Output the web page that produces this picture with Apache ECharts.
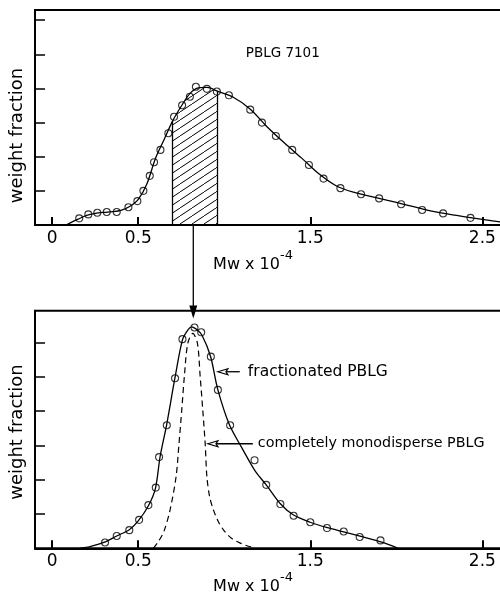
<!DOCTYPE html>
<html><head><meta charset="utf-8">
<script src="https://cdn.jsdelivr.net/npm/echarts@6/dist/echarts.min.js"></script>
<style>html,body{margin:0;padding:0;background:#fff}#c{width:500px;height:595px}</style>
</head><body><div id="c"></div>
<script>
// ---- data ----
const xTicks = [0, 0.5, 1.5, 2.5];
const yTicks = [1, 2, 3, 4, 5, 6];

const topCurveX = [0.08,0.15,0.2,0.25,0.3,0.35,0.4,0.45,0.5,0.55,0.6,0.65,0.7,0.75,0.8,0.85,0.9,0.96,1.05,1.15,1.25,1.35,1.45,1.55,1.65,1.75,1.85,1.95,2.05,2.15,2.25,2.35,2.45,2.55,2.62];
const topCurveY = [0,0.17,0.28,0.34,0.37,0.39,0.43,0.54,0.75,1.2,1.95,2.5,3.05,3.48,3.85,4.02,4.03,3.92,3.75,3.4,2.87,2.4,1.96,1.5,1.15,0.96,0.84,0.72,0.6,0.47,0.36,0.28,0.2,0.13,0.08];
const topPointsX = [0.157,0.21,0.262,0.317,0.375,0.443,0.495,0.53,0.567,0.592,0.629,0.675,0.708,0.755,0.80,0.835,0.899,0.957,1.027,1.151,1.219,1.30,1.395,1.492,1.577,1.675,1.795,1.90,2.028,2.15,2.272,2.431];
const topPointsY = [0.195,0.31,0.36,0.38,0.38,0.52,0.70,1.0,1.44,1.84,2.20,2.69,3.17,3.51,3.76,4.05,3.99,3.91,3.80,3.38,3.00,2.61,2.20,1.76,1.36,1.08,0.90,0.78,0.61,0.44,0.34,0.21];
const hatchRange = [0.70, 0.96];

const botCurveX = [0.16,0.22,0.3,0.375,0.45,0.5,0.56,0.6,0.627,0.665,0.713,0.757,0.79,0.811,0.84,0.87,0.92,0.963,1.03,1.1,1.18,1.244,1.326,1.403,1.5,1.6,1.7,1.8,1.9,1.96,2.01];
const botCurveY = [0,0.05,0.17,0.36,0.55,0.8,1.25,1.75,2.67,3.6,4.96,6.08,6.38,6.46,6.38,6.22,5.6,4.62,3.6,2.95,2.25,1.85,1.3,0.97,0.76,0.6,0.47,0.34,0.2,0.1,0];
const botPointsX = [0.307,0.375,0.448,0.505,0.559,0.602,0.621,0.666,0.714,0.757,0.827,0.866,0.922,0.963,1.034,1.176,1.244,1.326,1.403,1.50,1.597,1.694,1.787,1.908];
const botPointsY = [0.17,0.36,0.53,0.83,1.26,1.77,2.66,3.59,4.96,6.10,6.44,6.30,5.59,4.62,3.59,2.57,1.85,1.29,0.95,0.76,0.59,0.49,0.33,0.23];

const monoX = [0.588,0.62,0.65,0.685,0.72,0.737,0.753,0.768,0.788,0.817,0.844,0.86,0.875,0.889,0.899,0.915,0.937,0.965,0.995,1.04,1.093,1.14,1.18];
const monoY = [0,0.22,0.5,1.12,2.09,3.06,4.04,5.01,5.98,6.27,5.98,5.01,4.04,3.06,2.09,1.5,1.12,0.78,0.54,0.3,0.15,0.06,0.02];

const titleText = 'PBLG 7101';
const labelFrac = 'fractionated PBLG';
const labelMono = 'completely monodisperse PBLG';
const yName = 'weight fraction';
const xName = 'Mw x 10{s|-4}';
const arrowX = 0.82;

// ---- helpers ----
const FONT = 'DejaVu Sans';
const zip = (xs, ys) => xs.map((x, i) => [x, ys[i]]);
const topCurve = zip(topCurveX, topCurveY);
const hatch = topCurve.filter(p => p[0] >= hatchRange[0] - 1e-9 && p[0] <= hatchRange[1] + 1e-9);
const hatchLeftY = hatch[0][1], hatchRightY = hatch[hatch.length - 1][1];

const tile = document.createElement('canvas');
tile.width = 12; tile.height = 8;
const tc = tile.getContext('2d');
tc.strokeStyle = '#000'; tc.lineWidth = 1;
tc.beginPath();
for (let k = -1; k <= 1; k++) { tc.moveTo(k * 12, 8); tc.lineTo(k * 12 + 12, 0); }
tc.stroke();

function xAxisCfg(grid, nameGap) {
  return {
    type: 'value', gridIndex: grid, min: -0.1, max: 2.62,
    name: xName, nameLocation: 'middle', nameGap: nameGap,
    nameTextStyle: {
      fontFamily: FONT, fontSize: 16, color: '#000', lineHeight: 32, padding: [0, 32, 0, 0],
      rich: { s: { fontFamily: FONT, fontSize: 13, color: '#000', verticalAlign: 'top', lineHeight: 10 } }
    },
    axisLine: { show: true, onZero: false, lineStyle: { color: '#000', width: 2 } },
    axisTick: { show: true, inside: true, length: 8, customValues: xTicks, lineStyle: { color: '#000', width: 2 } },
    axisLabel: { customValues: xTicks, margin: 5, fontFamily: FONT, fontSize: 17, color: '#000' },
    splitLine: { show: false }
  };
}
function yAxisCfg(grid, max, padRight) {
  return {
    type: 'value', gridIndex: grid, min: 0, max: max,
    name: yName, nameLocation: 'middle', nameGap: 9,
    nameTextStyle: { fontFamily: FONT, fontSize: 18, color: '#000', padding: [0, padRight, 0, 0] },
    axisLine: { show: true, onZero: false, lineStyle: { color: '#000', width: 2 } },
    axisTick: { show: true, inside: true, length: 10, customValues: yTicks, lineStyle: { color: '#000', width: 1.5 } },
    axisLabel: { show: false },
    splitLine: { show: false }
  };
}
const pointStyle = { color: 'rgba(255,255,255,0)', borderColor: '#000', borderWidth: 1.1 };

const chart = echarts.init(document.getElementById('c'), null, { renderer: 'canvas' });
const option = {
  animation: false,
  backgroundColor: '#fff',
  grid: [
    { left: 35, right: -3, top: 10, height: 215, show: true, borderColor: '#000', borderWidth: 2, outerBoundsMode: 'none', containLabel: false },
    { left: 35, right: -3, top: 310.7, height: 237.6, show: true, borderColor: '#000', borderWidth: 2, outerBoundsMode: 'none', containLabel: false }
  ],
  xAxis: [xAxisCfg(0, 24), xAxisCfg(1, 23)],
  yAxis: [yAxisCfg(0, 6.3, 36), yAxisCfg(1, 6.93, 5)],
  series: [
    {
      type: 'line', xAxisIndex: 0, yAxisIndex: 0, data: hatch, symbol: 'none',
      lineStyle: { width: 0 }, areaStyle: { color: { image: tile, repeat: 'repeat' }, opacity: 1 }, z: 1,
      markLine: {
        silent: true, symbol: 'none', label: { show: false },
        lineStyle: { color: '#000', width: 1.3, type: 'solid' },
        data: [
          [{ coord: [hatchRange[0], 0] }, { coord: [hatchRange[0], hatchLeftY] }],
          [{ coord: [hatchRange[1], 0] }, { coord: [hatchRange[1], hatchRightY] }]
        ]
      }
    },
    { type: 'line', xAxisIndex: 0, yAxisIndex: 0, data: topCurve, smooth: 0.3, symbol: 'none', lineStyle: { color: '#000', width: 1.3 }, z: 3 },
    { type: 'scatter', xAxisIndex: 0, yAxisIndex: 0, data: zip(topPointsX, topPointsY), symbol: 'circle', symbolSize: 7, itemStyle: pointStyle, z: 4 },
    { type: 'line', xAxisIndex: 1, yAxisIndex: 1, data: zip(monoX, monoY), smooth: 0.3, symbol: 'none', lineStyle: { color: '#000', width: 1.2, type: [6, 4] }, z: 2 },
    { type: 'line', xAxisIndex: 1, yAxisIndex: 1, data: zip(botCurveX, botCurveY), smooth: 0.3, symbol: 'none', lineStyle: { color: '#000', width: 1.3 }, z: 3 },
    { type: 'scatter', xAxisIndex: 1, yAxisIndex: 1, data: zip(botPointsX, botPointsY), symbol: 'circle', symbolSize: 7, itemStyle: pointStyle, z: 4 }
  ]
};
chart.setOption(option);

// ---- annotations placed from data coordinates ----
const P = (g, x, y) => chart.convertToPixel({ gridIndex: g }, [x, y]);
const a0 = P(0, arrowX, 0);
const a1 = P(1, arrowX, 6.7);
const tp = P(0, 1.34, 5.03);
const f0 = P(1, 1.09, 5.15), f1 = P(1, 0.963, 5.15), ft = P(1, 1.137, 5.15);
const m0 = P(1, 1.166, 3.05), m1 = P(1, 0.905, 3.05), mt = P(1, 1.195, 3.05);
function leftArrow(s, e) {
  return [
    { type: 'line', shape: { x1: s[0], y1: s[1], x2: e[0] + 8, y2: e[1] }, style: { stroke: '#000', lineWidth: 1.3 } },
    { type: 'polygon', shape: { points: [[e[0], e[1]], [e[0] + 10, e[1] - 3], [e[0] + 8, e[1]], [e[0] + 10, e[1] + 3]] }, style: { fill: '#fff', stroke: '#000', lineWidth: 1.2 } }
  ];
}
chart.setOption({
  graphic: [
    { type: 'line', shape: { x1: a0[0], y1: a0[1], x2: a1[0], y2: a1[1] - 10 }, style: { stroke: '#000', lineWidth: 1.3 }, z: 10 },
    { type: 'polygon', shape: { points: [[a1[0] - 4, a1[1] - 13], [a1[0] + 4, a1[1] - 13], [a1[0], a1[1]]] }, style: { fill: '#000' }, z: 10 },
    { type: 'text', x: tp[0], y: tp[1], style: { text: titleText, fontFamily: FONT, fontSize: 13.5, fill: '#000', align: 'center', verticalAlign: 'middle' }, z: 10 },
    ...leftArrow(f0, f1),
    { type: 'text', x: ft[0], y: ft[1], style: { text: labelFrac, fontFamily: FONT, fontSize: 15.5, fill: '#000', align: 'left', verticalAlign: 'middle' }, z: 10 },
    ...leftArrow(m0, m1),
    { type: 'text', x: mt[0], y: mt[1], style: { text: labelMono, fontFamily: FONT, fontSize: 14.3, fill: '#000', align: 'left', verticalAlign: 'middle' }, z: 10 }
  ]
});
</script>
</body></html>
